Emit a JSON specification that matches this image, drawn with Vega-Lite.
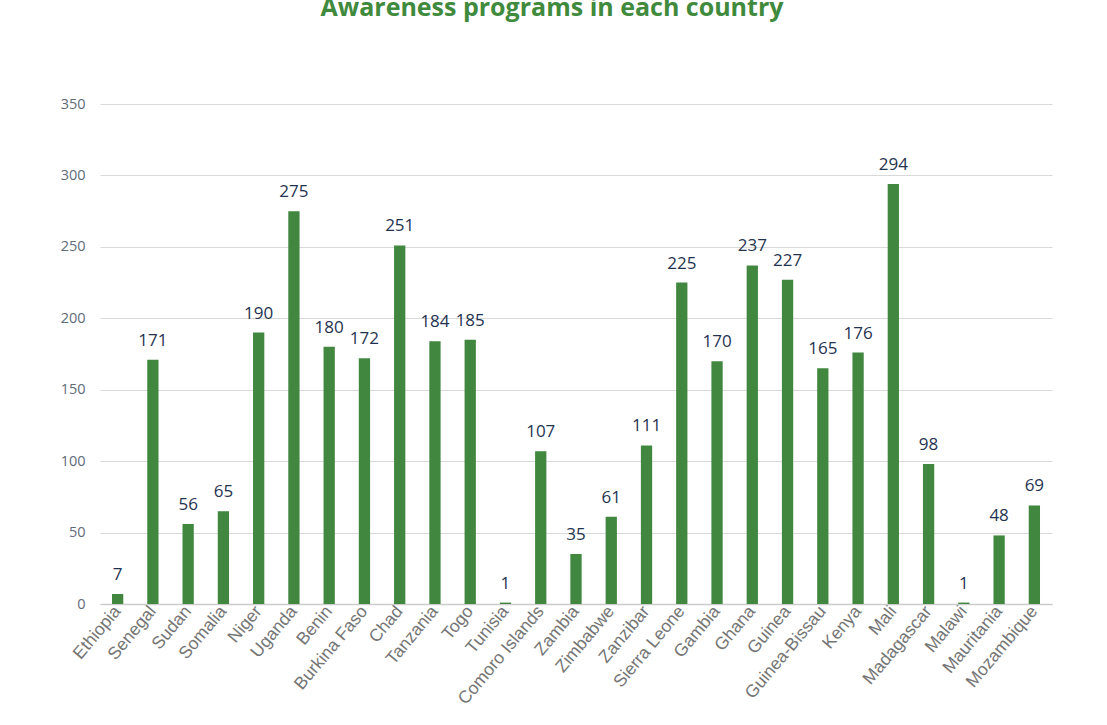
{
  "$schema": "https://vega.github.io/schema/vega-lite/v6.json",
  "autosize": "none",
  "width": 952,
  "height": 500,
  "padding": {"left": 100, "top": 104, "right": 55, "bottom": 121},
  "background": "white",
  "config": {"view": {"stroke": null}, "font": "Open Sans"},
  "title": {
    "text": "Awareness programs in each country",
    "color": "#3f8a3c",
    "fontSize": 25,
    "fontWeight": "bold",
    "font": "Open Sans",
    "anchor": "middle",
    "frame": "group",
    "baseline": "alphabetic",
    "offset": 55,
    "dx": -24
  },
  "data": {
    "values": [
      {"country": "Ethiopia", "value": 7},
      {"country": "Senegal", "value": 171},
      {"country": "Sudan", "value": 56},
      {"country": "Somalia", "value": 65},
      {"country": "Niger", "value": 190},
      {"country": "Uganda", "value": 275},
      {"country": "Benin", "value": 180},
      {"country": "Burkina Faso", "value": 172},
      {"country": "Chad", "value": 251},
      {"country": "Tanzania", "value": 184},
      {"country": "Togo", "value": 185},
      {"country": "Tunisia", "value": 1},
      {"country": "Comoro Islands", "value": 107},
      {"country": "Zambia", "value": 35},
      {"country": "Zimbabwe", "value": 61},
      {"country": "Zanzibar", "value": 111},
      {"country": "Sierra Leone", "value": 225},
      {"country": "Gambia", "value": 170},
      {"country": "Ghana", "value": 237},
      {"country": "Guinea", "value": 227},
      {"country": "Guinea-Bissau", "value": 165},
      {"country": "Kenya", "value": 176},
      {"country": "Mali", "value": 294},
      {"country": "Madagascar", "value": 98},
      {"country": "Malawi", "value": 1},
      {"country": "Mauritania", "value": 48},
      {"country": "Mozambique", "value": 69}
    ]
  },
  "encoding": {
    "x": {
      "field": "country",
      "type": "nominal",
      "sort": null,
      "scale": {"paddingInner": 0.68, "paddingOuter": 0.34},
      "axis": {
        "title": null,
        "labelAngle": -50,
        "labelFontSize": 17.5,
        "labelColor": "#757575",
        "labelPadding": 4,
        "ticks": false,
        "domainColor": "#cccccc",
        "domainWidth": 1.5,
        "labelFont": "Liberation Sans"
      }
    },
    "y": {
      "field": "value",
      "type": "quantitative",
      "scale": {"domain": [0, 350], "nice": false},
      "axis": {
        "title": null,
        "values": [0, 50, 100, 150, 200, 250, 300, 350],
        "labelFontSize": 14.5,
        "labelColor": "#5f6b78",
        "labelPadding": 15,
        "ticks": false,
        "domain": false,
        "gridColor": "#d9d9d9",
        "gridWidth": 1,
        "labelFont": "Open Sans"
      }
    }
  },
  "layer": [
    {"mark": {"type": "bar", "color": "#41873f"}},
    {
      "mark": {
        "type": "text",
        "baseline": "bottom",
        "dy": -10,
        "fontSize": 17,
        "color": "#1f3350",
        "font": "Open Sans"
      },
      "encoding": {"text": {"field": "value", "type": "quantitative"}}
    }
  ]
}
